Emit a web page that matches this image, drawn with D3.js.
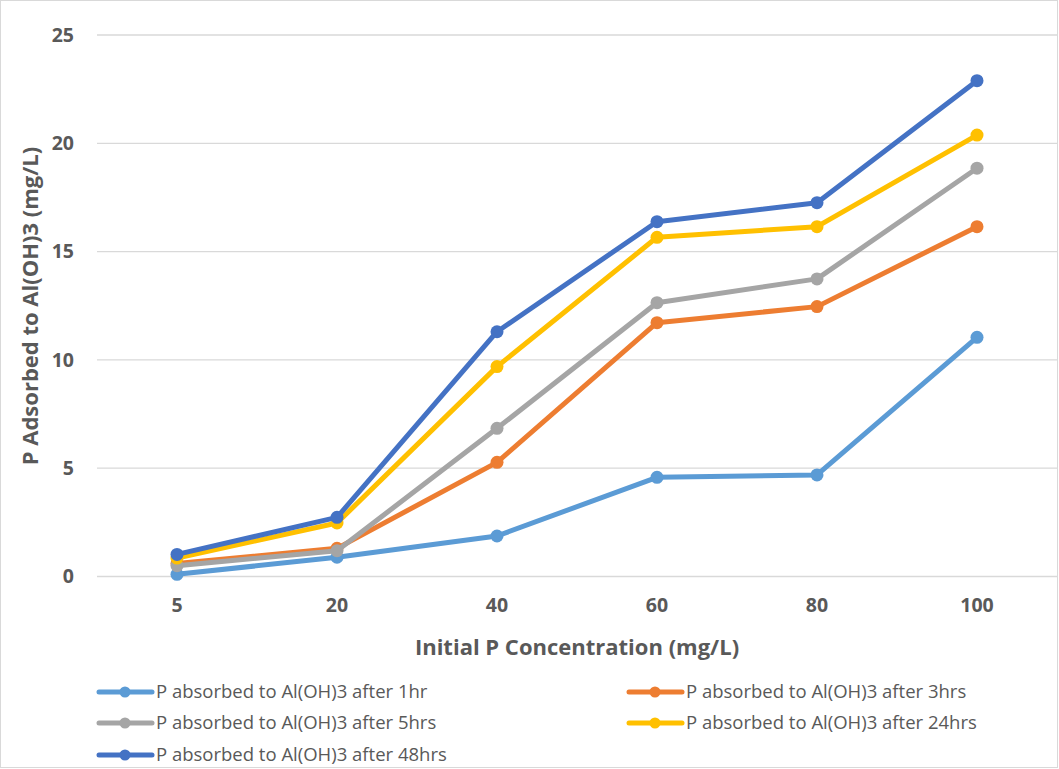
<!DOCTYPE html>
<html><head><meta charset="utf-8">
<script src="https://cdn.jsdelivr.net/npm/d3@7"></script>
<style>body{margin:0;background:#fff}svg{display:block}text{font-family:"Open Sans",sans-serif}</style>
</head><body><svg id="c" width="1059" height="769"></svg>
<script>
const categories = ["5","20","40","60","80","100"];
const yTicks = [0,5,10,15,20,25];
const seriesNames = ["P absorbed to Al(OH)3 after 1hr","P absorbed to Al(OH)3 after 3hrs","P absorbed to Al(OH)3 after 5hrs","P absorbed to Al(OH)3 after 24hrs","P absorbed to Al(OH)3 after 48hrs"];
const colors = ["#5B9BD5","#ED7D31","#A5A5A5","#FFC000","#4472C4"];
const s1hr = [0.1, 0.89, 1.87, 4.58, 4.69, 11.04];
const s3hrs = [0.6, 1.3, 5.27, 11.72, 12.46, 16.15];
const s5hrs = [0.5, 1.19, 6.84, 12.64, 13.74, 18.85];
const s24hrs = [0.85, 2.47, 9.69, 15.66, 16.15, 20.38];
const s48hrs = [1.02, 2.73, 11.3, 16.38, 17.26, 22.89];
const seriesValues = [s1hr, s3hrs, s5hrs, s24hrs, s48hrs];

const svg = d3.select("#c");
svg.append("rect").attr("x",0.5).attr("y",0.5).attr("width",1057).attr("height",767).attr("fill","#fff").attr("stroke","#d9d9d9");

const x = d3.scaleBand().domain(categories).range([97,1057]);
const y = d3.scaleLinear().domain([0,25]).range([576.5,35]);
const cx = c => x(c) + x.bandwidth()/2;

// gridlines
svg.append("g").selectAll("line").data(yTicks).join("line")
  .attr("x1",97).attr("x2",1057).attr("y1",d=>y(d)).attr("y2",d=>y(d))
  .attr("stroke","#d9d9d9").attr("stroke-width",1.3);

// y axis labels
const yAxis = d3.axisLeft(y).tickValues(yTicks).tickSize(0).tickPadding(0);
const gy = svg.append("g").attr("transform","translate(74,0)").call(yAxis);
gy.select(".domain").remove();
gy.selectAll("text").attr("font-size",19.5).attr("font-weight","bold").attr("fill","#595959").attr("font-family","Open Sans");

// x axis labels
const xAxis = d3.axisBottom(x).tickSize(0).tickPadding(0);
const gx = svg.append("g").attr("transform","translate(0,598)").call(xAxis);
gx.select(".domain").remove();
gx.selectAll("text").attr("font-size",19.5).attr("font-weight","bold").attr("fill","#595959").attr("font-family","Open Sans");

// titles
svg.append("text").attr("x",577).attr("y",655).attr("text-anchor","middle")
  .attr("font-size",22).attr("font-weight","bold").attr("fill","#595959").text("Initial P Concentration (mg/L)");
svg.append("text").attr("transform","translate(38,306) rotate(-90)").attr("text-anchor","middle")
  .attr("font-size",22).attr("font-weight","bold").attr("fill","#595959").text("P Adsorbed to Al(OH)3 (mg/L)");

// series
const line = d3.line().x((d,i)=>cx(categories[i])).y(d=>y(d));
seriesValues.forEach((vals,si)=>{
  const g = svg.append("g");
  g.append("path").attr("d",line(vals)).attr("fill","none").attr("stroke",colors[si])
    .attr("stroke-width",5).attr("stroke-linejoin","round").attr("stroke-linecap","round");
  g.selectAll("circle").data(vals).join("circle")
    .attr("cx",(d,i)=>cx(categories[i])).attr("cy",d=>y(d)).attr("r",6.5).attr("fill",colors[si]);
});

// legend
const legPos = [[97,692],[627,692],[97,723],[627,723],[97,755]];
seriesNames.forEach((n,si)=>{
  const [lx,ly] = legPos[si];
  const g = svg.append("g");
  g.append("line").attr("x1",lx+2).attr("x2",lx+55).attr("y1",ly).attr("y2",ly)
    .attr("stroke",colors[si]).attr("stroke-width",5).attr("stroke-linecap","round");
  g.append("circle").attr("cx",lx+28).attr("cy",ly).attr("r",5.5).attr("fill",colors[si]);
  g.append("text").attr("x",lx+59).attr("y",ly).attr("dy","0.35em").attr("font-size",18.5)
    .attr("fill","#595959").text(n);
});
</script></body></html>
